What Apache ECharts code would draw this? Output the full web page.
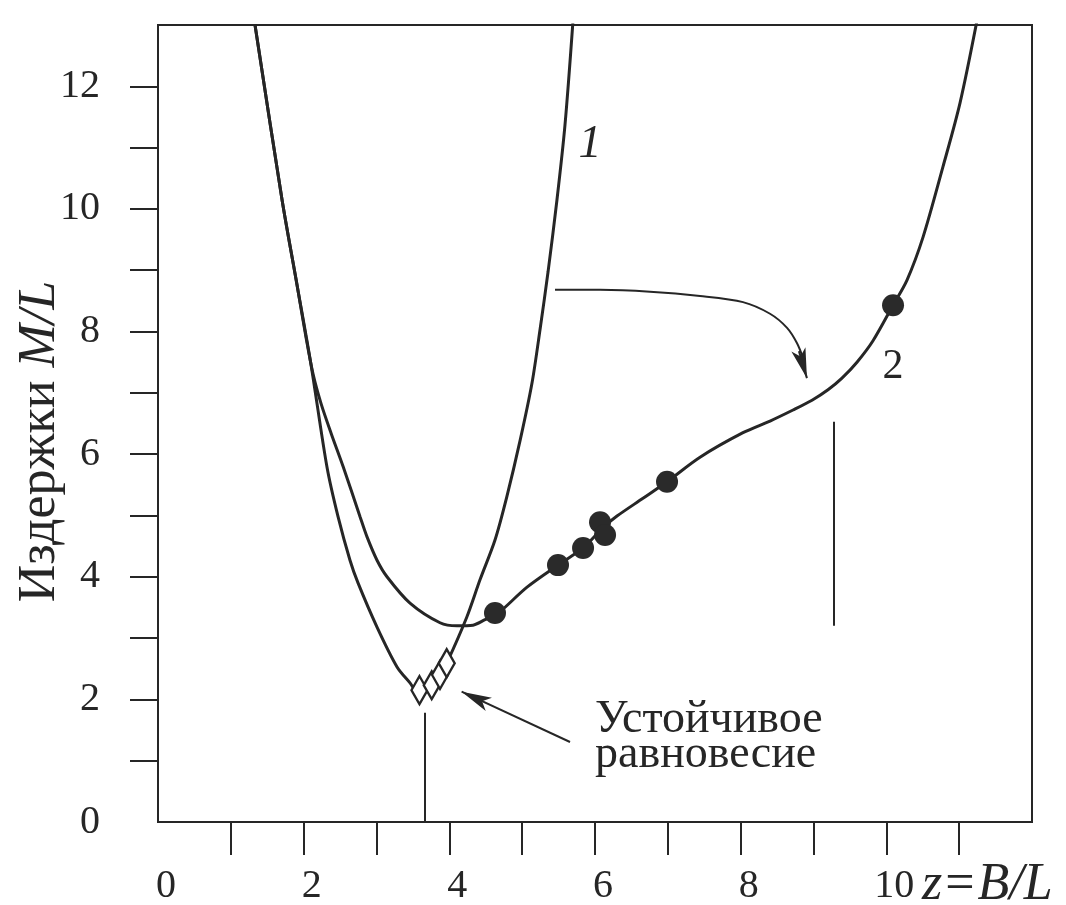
<!DOCTYPE html>
<html><head><meta charset="utf-8">
<script src="https://cdn.jsdelivr.net/npm/echarts@6/dist/echarts.min.js"></script>
<style>html,body{margin:0;padding:0;background:#fff}#c{width:1066px;height:905px}</style>
</head><body><div id="c"></div>
<script>
// ---- data ----
const curve1X = [1.332,1.703,1.909,2.101,2.320,2.472,2.636,2.746,3.007,3.282,3.460,3.584,3.758,3.872,3.964,4.239,4.421,4.627,4.788,4.971,5.135,5.245,5.355,5.478,5.588,5.698];
const curve1Y = [13.00,10.15,8.76,7.46,5.79,4.98,4.27,3.90,3.18,2.53,2.27,2.09,2.24,2.40,2.59,3.34,3.95,4.60,5.30,6.22,7.16,8.03,8.97,10.15,11.37,13.07];
const curve2X = [1.332,1.703,1.909,2.030,2.130,2.240,2.380,2.544,2.774,2.870,3.007,3.144,3.460,3.872,4.105,4.325,4.490,4.655,5.067,5.492,5.836,6.110,6.302,6.659,6.989,7.442,8.032,8.403,8.719,8.980,9.199,9.391,9.597,9.817,10.092,10.284,10.504,10.778,11.012,11.259];
const curve2Y = [13.00,10.15,8.76,7.92,7.30,6.82,6.33,5.79,4.98,4.65,4.27,4.00,3.57,3.25,3.20,3.21,3.30,3.39,3.83,4.19,4.47,4.80,4.99,5.28,5.55,5.95,6.35,6.54,6.72,6.88,7.05,7.24,7.50,7.85,8.43,8.84,9.54,10.69,11.73,13.16];
const dotsX = [4.627,5.492,5.836,6.069,6.138,6.989,10.092];
const dotsY = [3.41,4.19,4.47,4.89,4.68,5.55,8.43];
const diamondsX = [3.59,3.758,3.872,3.964];
const diamondsY = [2.15,2.23,2.40,2.59];
const arcArrowX = [5.451,6.069,6.755,7.442,8.032,8.403,8.637,8.774,8.857];
const arcArrowY = [8.68,8.68,8.65,8.58,8.48,8.29,8.06,7.81,7.57];
const arcArrowHead = [[8.80,7.68],[8.91,7.24]];
const eqArrow = [[5.657,1.305],[4.169,2.126]];
const dropLine = [[3.66,0],[3.66,1.78]];
const markLineV = [[9.28,3.2],[9.28,6.53]];
const xTicks = [1,2,3,4,5,6,7,8,9,10,11];
const xTickLabels = [0,2,4,6,8,10];
const yTicks = [1,2,3,4,5,6,7,8,9,10,11,12];
const yTickLabels = [0,2,4,6,8,10,12];

const zip = (a, b) => a.map((v, i) => [v, b[i]]);
const INK = '#262626';
const SERIF = '"Liberation Serif", "DejaVu Serif", serif';

const chart = echarts.init(document.getElementById('c'), null, {renderer: 'canvas'});
chart.setOption({
  backgroundColor: '#ffffff',
  animation: false,
  grid: {left: 158, right: 34, top: 25, bottom: 83, containLabel: false, outerBoundsMode: 'none',
         show: true, borderColor: INK, borderWidth: 2, backgroundColor: 'transparent'},
  xAxis: {
    type: 'value', min: 0, max: 12, interval: 1,
    axisLine: {show: true, onZero: false, lineStyle: {color: INK, width: 2}},
    axisTick: {show: true, inside: false, length: 33, customValues: xTicks, lineStyle: {color: INK, width: 2}},
    axisLabel: {show: true, customValues: xTickLabels, margin: 44, color: INK, fontFamily: SERIF, fontSize: 40, padding: [0, 0, 0, 16]},
    splitLine: {show: false}
  },
  yAxis: {
    type: 'value', min: 0, max: 13, interval: 1,
    name: 'Издержки {i|M/L}', nameLocation: 'middle', nameGap: 92, nameRotate: 90, nameMoveOverlap: false,
    nameTextStyle: {color: INK, fontFamily: SERIF, fontSize: 52, padding: [0, 36, 0, 0],
      rich: {i: {fontStyle: 'italic', fontFamily: SERIF, fontSize: 52, color: INK}}},
    axisLine: {show: true, onZero: false, lineStyle: {color: INK, width: 2}},
    axisTick: {show: true, inside: false, length: 28, customValues: yTicks, lineStyle: {color: INK, width: 2}},
    axisLabel: {show: true, customValues: yTickLabels, margin: 58, color: INK, fontFamily: SERIF, fontSize: 40},
    splitLine: {show: false}
  },
  series: [
    {name: 'curve1', type: 'line', data: zip(curve1X, curve1Y), smooth: 0.3, showSymbol: false, symbol: 'none',
     lineStyle: {color: INK, width: 3}, z: 3, clip: true},
    {name: 'curve2', type: 'line', data: zip(curve2X, curve2Y), smooth: 0.3, showSymbol: false, symbol: 'none',
     lineStyle: {color: INK, width: 3}, z: 3, clip: true},
    {name: 'arc', type: 'line', data: zip(arcArrowX, arcArrowY), smooth: 0.3, showSymbol: false, symbol: 'none',
     lineStyle: {color: INK, width: 2}, z: 3},
    {name: 'heads', type: 'lines', coordinateSystem: 'cartesian2d', z: 4,
     symbol: ['none', 'arrow'], symbolSize: [0, [11, 30]],
     lineStyle: {color: INK, width: 2, opacity: 1, curveness: 0},
     itemStyle: {color: INK},
     data: [{coords: arcArrowHead}, {coords: eqArrow}]},
    {name: 'guides', type: 'lines', coordinateSystem: 'cartesian2d', z: 2,
     symbol: ['none', 'none'],
     lineStyle: {color: INK, width: 2, opacity: 1, curveness: 0},
     data: [{coords: dropLine}, {coords: markLineV}]},
    {name: 'dots', type: 'scatter', data: zip(dotsX, dotsY), symbol: 'circle', symbolSize: 22,
     itemStyle: {color: '#2a2a2a', opacity: 1}, z: 5},
    {name: 'diamonds', type: 'scatter', data: zip(diamondsX, diamondsY), symbol: 'diamond', symbolSize: [16, 28],
     itemStyle: {color: '#ffffff', borderColor: INK, borderWidth: 2.5, opacity: 1}, z: 5}
  ],
  graphic: [
    {type: 'text', x: 590, y: 145, z: 10, style: {text: '1', font: 'italic 46px ' + SERIF, fill: INK, align: 'center', verticalAlign: 'middle'}},
    {type: 'text', x: 893, y: 367, z: 10, style: {text: '2', font: '42px ' + SERIF, fill: INK, align: 'center', verticalAlign: 'middle'}},
    {type: 'text', x: 595, y: 702, z: 10, style: {text: 'Устойчивое\nравновесие', font: '46px ' + SERIF, lineHeight: 35, fill: INK, align: 'left', verticalAlign: 'top'}},
    {type: 'text', x: 922, y: 885, z: 10, style: {
      text: '{i|z}{n|=}{i|B/L}', align: 'left', verticalAlign: 'middle',
      rich: {i: {font: 'italic 52px ' + SERIF, fill: INK}, n: {font: '52px ' + SERIF, fill: INK, padding: [0, 3, 0, 3]}}}}
  ]
});
</script></body></html>
